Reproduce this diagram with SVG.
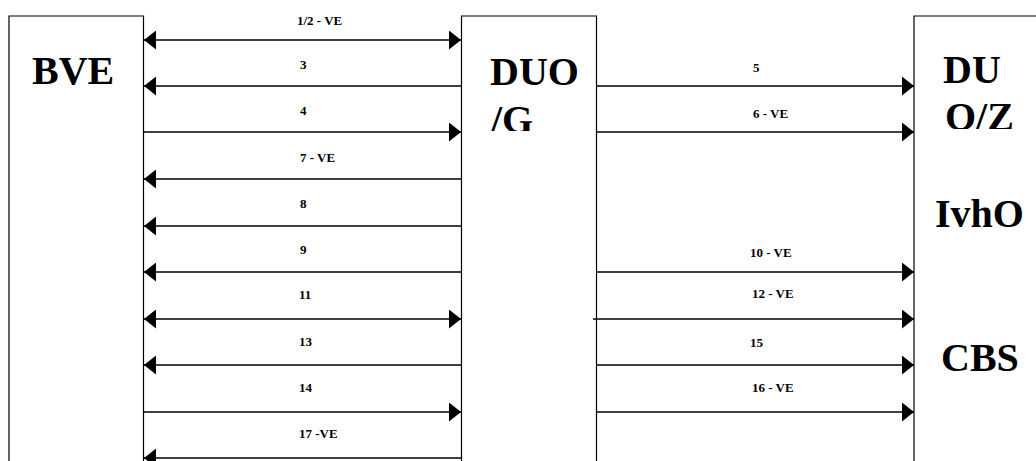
<svg xmlns="http://www.w3.org/2000/svg" width="1036" height="461" viewBox="0 0 1036 461">
<style>
.box{fill:#fff;stroke:#000;stroke-width:1.2}
.big{font-family:"Liberation Serif","Times New Roman",serif;font-weight:bold;font-size:40px;fill:#000}
.lbl{font-family:"Liberation Serif","Times New Roman",serif;font-weight:bold;font-size:13px;fill:#000}
.ln{stroke:#000;stroke-width:1.4;fill:none}
</style>
<defs>
<marker id="ah" viewBox="0 0 12 19" refX="12" refY="9.5" markerWidth="12" markerHeight="19" markerUnits="userSpaceOnUse" orient="auto-start-reverse">
<path d="M0,0 L12,9.5 L0,19 Z" fill="#000"/>
</marker>
<clipPath id="cG"><rect x="462" y="16" width="134" height="115"/></clipPath>
<clipPath id="cZ"><rect x="915" y="16" width="121" height="113"/></clipPath>
</defs>
<rect width="1036" height="461" fill="#fff"/>
<g id="node-bve">
<path class="box" d="M9,470 V16 H143.5 V470"/>
<text class="big" x="32" y="84">BVE</text>
</g>
<g id="node-duog">
<path class="box" d="M461.5,470 V16 H596.5 V470"/>
<g clip-path="url(#cG)">
<text class="big" x="490" y="85">DUO</text>
<text class="big" x="491" y="133">/G</text>
</g>
</g>
<g id="node-right">
<path class="box" d="M914,470 V16 H1040"/>
<g clip-path="url(#cZ)">
<text class="big" x="943" y="83">DU</text>
<text class="big" x="945" y="130">O/Z</text>
</g>
<text class="big" x="935" y="227">IvhO</text>
<text class="big" x="941" y="371">CBS</text>
</g>
<g id="connectors">
<line class="ln" x1="144" y1="40" x2="461" y2="40" marker-start="url(#ah)" marker-end="url(#ah)"/>
<line class="ln" x1="461" y1="86" x2="144" y2="86" marker-end="url(#ah)"/>
<line class="ln" x1="144" y1="132" x2="461" y2="132" marker-end="url(#ah)"/>
<line class="ln" x1="461" y1="179" x2="144" y2="179" marker-end="url(#ah)"/>
<line class="ln" x1="461" y1="226" x2="144" y2="226" marker-end="url(#ah)"/>
<line class="ln" x1="461" y1="272" x2="144" y2="272" marker-end="url(#ah)"/>
<line class="ln" x1="144" y1="319" x2="461" y2="319" marker-start="url(#ah)" marker-end="url(#ah)"/>
<line class="ln" x1="461" y1="365" x2="144" y2="365" marker-end="url(#ah)"/>
<line class="ln" x1="144" y1="412" x2="461" y2="412" marker-end="url(#ah)"/>
<line class="ln" x1="461" y1="458" x2="144" y2="458" marker-end="url(#ah)"/>
<line class="ln" x1="597" y1="86" x2="914" y2="86" marker-end="url(#ah)"/>
<line class="ln" x1="597" y1="132" x2="914" y2="132" marker-end="url(#ah)"/>
<line class="ln" x1="597" y1="272" x2="914" y2="272" marker-end="url(#ah)"/>
<line class="ln" x1="593" y1="319" x2="914" y2="319" marker-end="url(#ah)"/>
<line class="ln" x1="597" y1="365" x2="914" y2="365" marker-end="url(#ah)"/>
<line class="ln" x1="597" y1="412" x2="914" y2="412" marker-end="url(#ah)"/>
<text class="lbl" x="297" y="25">1/2 - VE</text>
<text class="lbl" x="300" y="69">3</text>
<text class="lbl" x="300" y="115">4</text>
<text class="lbl" x="300" y="162">7 - VE</text>
<text class="lbl" x="300" y="208">8</text>
<text class="lbl" x="300" y="254">9</text>
<text class="lbl" x="299" y="299">11</text>
<text class="lbl" x="299" y="346">13</text>
<text class="lbl" x="299" y="392">14</text>
<text class="lbl" x="299" y="438">17 -VE</text>
<text class="lbl" x="753" y="72">5</text>
<text class="lbl" x="753" y="118">6 - VE</text>
<text class="lbl" x="750" y="257">10 - VE</text>
<text class="lbl" x="752" y="298">12 - VE</text>
<text class="lbl" x="750" y="347">15</text>
<text class="lbl" x="752" y="392">16 - VE</text>
</g>
</svg>
